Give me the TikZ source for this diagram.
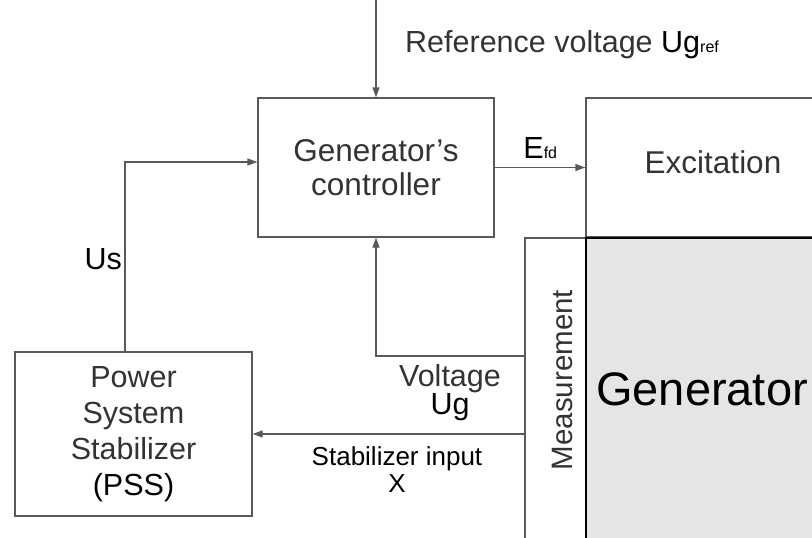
\documentclass[tikz,border=0pt]{standalone}
\usepackage{fontspec}
\setmainfont{Liberation Sans}
\usetikzlibrary{positioning, arrows.meta, calc}

\begin{document}
\begin{tikzpicture}[x=1pt, y=-1pt, >={Triangle[length=10pt, width=7pt]},
  block/.style={draw=black!65, line width=1.3pt, align=center, inner sep=0pt,
    text=black!80, font=\fontsize{31.5}{34}\selectfont},
  arrow/.style={->, draw=black!65, line width=1.3pt},
  label/.style={inner sep=0pt, align=center, font=\fontsize{30.5}{28}\selectfont}]

\useasboundingbox (0,0) rectangle (812,538);
\clip (0,0) rectangle (812,538);

% --- Controller ---
\node[block, minimum width=236pt, minimum height=139pt] (ctrl) at (376,167.5) {Generator’s\\controller};

% --- Excitation ---
\node[block, minimum width=254pt, minimum height=139pt, text depth=11.5pt] (exc) at (713,167.5) {Excitation};

% --- Measurement ---
\node[block, minimum width=61pt, minimum height=320pt] (meas) at (555.5,398) {};
\node[label, rotate=90, text=black!80, font=\fontsize{29.5}{30}\selectfont] (meastext) at (562,380) {Measurement};

% --- Generator ---
\node[block, draw=black, fill=black!10, minimum width=254pt, minimum height=320pt] (gen) at (713,398) {};
\node[label, anchor=base west, font=\fontsize{47}{50}\selectfont] (gentext) at (596,405) {Generator};

% --- PSS ---
\node[block, minimum width=237pt, minimum height=164pt, font=\fontsize{30.5}{36}\selectfont] (pss) at (133.5,434) {Power\\System\\Stabilizer\\\textcolor{black}{(PSS)}};

% --- Reference ---
\coordinate (reftop) at (376,0);
\node[label, anchor=base west, text=black!80] (reflabel) at (405,52) {Reference voltage \textcolor{black}{Ug{\fontsize{16}{16}\selectfont ref}}};

% --- Connectors ---
\draw[arrow] (reftop) -- (ctrl.north);
\draw[arrow] (ctrl.east) -- node[label, anchor=base west, pos=0.31, yshift=9pt] (efd) {E{\fontsize{16}{16}\selectfont fd}} (exc.west);
\coordinate (usbend) at (125,162);
\draw[arrow] (pss.north -| usbend) -- (usbend) -- (usbend -| ctrl.west);
\draw[arrow] ([yshift=42pt]meas.west) -| (ctrl.south);
\draw[arrow] ([yshift=-36pt]meas.west) -- (pss.east);

% --- Labels ---
\node[label, anchor=base east] (us) at (122,269) {Us};
\node[label] (vlabel) at (450,393) {\textcolor{black!80}{Voltage}\\Ug};
\node[label, font=\fontsize{26}{27}\selectfont] (xlabel) at (397,470) {Stabilizer input\\X};

\end{tikzpicture}
\end{document}
